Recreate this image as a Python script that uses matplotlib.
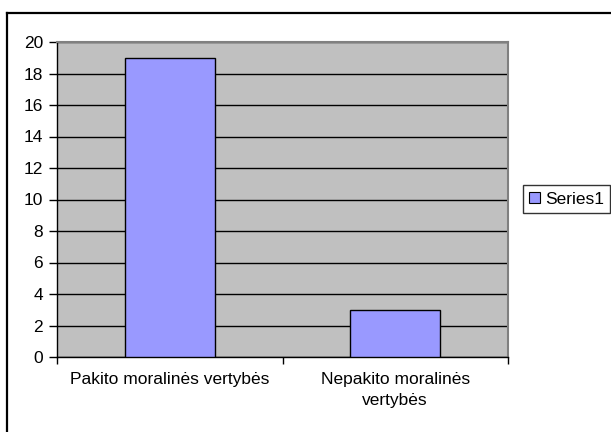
import matplotlib
matplotlib.use("Agg")
import matplotlib.pyplot as plt
from matplotlib.patches import Patch
from matplotlib.lines import Line2D

categories = ["Pakito moralinės vertybės", "Nepakito moralinės\nvertybės"]
values = [19, 3]
series_name = "Series1"
y_ticks = [0, 2, 4, 6, 8, 10, 12, 14, 16, 18, 20]

plt.rcParams["font.family"] = ["Liberation Sans", "DejaVu Sans"]
plt.rcParams["font.size"] = 12.5

W, H = 611, 432
fig = plt.figure(figsize=(W / 100, H / 100), dpi=100)
fig.patch.set_facecolor("white")

# outer chart frame (top and left edges visible)
fig.add_artist(Line2D([7 / W, 7 / W], [0, 1 - 13 / H], color="black", lw=1.6,
                      transform=fig.transFigure))
fig.add_artist(Line2D([7 / W, 1], [1 - 13 / H, 1 - 13 / H], color="black", lw=1.6,
                      transform=fig.transFigure))

left, right, top, bottom = 57, 508, 42, 357
ax = fig.add_axes([left / W, 1 - bottom / H, (right - left) / W, (bottom - top) / H])
ax.set_facecolor("#C0C0C0")

x = list(range(len(categories)))
ax.bar(x, values, width=0.4, color="#9999FF", edgecolor="black", linewidth=1.0,
       zorder=3, label=series_name)

ax.set_xlim(-0.5, len(categories) - 0.5)
ax.set_ylim(0, 20)
ax.set_yticks(y_ticks)
ax.set_yticklabels([str(t) for t in y_ticks])
ax.yaxis.grid(True, color="black", linewidth=1.0, zorder=1)
ax.set_axisbelow(True)

ax.set_xticks(x)
ax.set_xticklabels(categories, linespacing=1.45)
ax.tick_params(axis="x", length=0, pad=11)
ax.set_xticks([-0.5, 0.5, 1.5], minor=True)
ax.tick_params(axis="x", which="minor", length=5, width=1, color="black")
ax.tick_params(axis="y", length=6, width=1, color="black", pad=4)

for s in ["top", "right"]:
    ax.spines[s].set_color("#808080")
    ax.spines[s].set_linewidth(1.5)
for s in ["left", "bottom"]:
    ax.spines[s].set_color("black")
    ax.spines[s].set_linewidth(1.0)

handle = Patch(facecolor="#9999FF", edgecolor="black", linewidth=0.8)
leg = fig.legend([handle], [series_name], loc="center",
                 bbox_to_anchor=(566.5 / W, 1 - 199 / H),
                 frameon=True, fancybox=False, edgecolor="black",
                 handlelength=0.6, handleheight=0.6, handletextpad=0.3,
                 borderpad=0.35, fontsize=12.5)
leg.get_frame().set_linewidth(1.0)

fig.savefig("out.png", dpi=100, facecolor="white")
